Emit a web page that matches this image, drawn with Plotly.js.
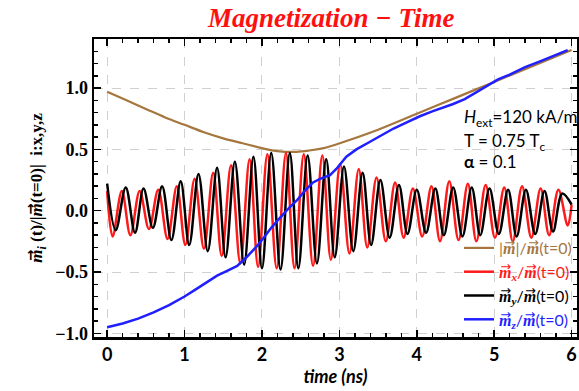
<!DOCTYPE html>
<html>
<head>
<meta charset="utf-8">
<script src="https://cdn.plot.ly/plotly-3.0.1.min.js"></script>
<style>
  html, body { margin: 0; padding: 0; background: #fff; }
  #chart { width: 579px; height: 391px; }
</style>
</head>
<body>
<div id="chart"></div>
<script>
// |m| / m(t=0)
const magT = [0.00, 0.25, 0.50, 0.75, 1.00, 1.25, 1.50, 1.75, 2.00, 2.15, 2.30, 2.45, 2.60, 2.80, 3.10, 3.50, 4.00, 4.50, 5.00, 5.50, 6.00];
const magV = [0.97, 0.90, 0.83, 0.76, 0.70, 0.64, 0.59, 0.55, 0.51, 0.49, 0.48, 0.48, 0.49, 0.51, 0.57, 0.66, 0.79, 0.92, 1.05, 1.18, 1.31];

// m_x / m(t=0), turning points
const mxT = [0.00, 0.07, 0.19, 0.30, 0.42, 0.54, 0.66, 0.78, 0.90, 1.01, 1.13, 1.25, 1.37, 1.48, 1.60, 1.72, 1.84, 1.95, 2.07, 2.19, 2.31, 2.42, 2.54, 2.66, 2.78, 2.89, 3.01, 3.13, 3.25, 3.36, 3.48, 3.60, 3.72, 3.83, 3.95, 4.07, 4.19, 4.30, 4.42, 4.54, 4.66, 4.77, 4.89, 5.01, 5.13, 5.24, 5.36, 5.48, 5.60, 5.71, 5.83, 5.95, 6.00];
const mxV = [0.16, -0.21, 0.16, -0.20, 0.16, -0.15, 0.17, -0.23, 0.20, -0.28, 0.26, -0.31, 0.31, -0.37, 0.37, -0.43, 0.42, -0.46, 0.46, -0.47, 0.47, -0.47, 0.46, -0.45, 0.45, -0.40, 0.38, -0.35, 0.34, -0.30, 0.27, -0.25, 0.23, -0.22, 0.18, -0.21, 0.20, -0.25, 0.24, -0.24, 0.22, -0.25, 0.21, -0.22, 0.19, -0.25, 0.20, -0.22, 0.18, -0.20, 0.17, -0.12, 0.05];

// m_y / m(t=0), turning points
const myT = [0.00, 0.11, 0.24, 0.36, 0.47, 0.59, 0.71, 0.83, 0.95, 1.06, 1.18, 1.30, 1.42, 1.53, 1.65, 1.77, 1.89, 2.00, 2.12, 2.24, 2.36, 2.47, 2.59, 2.71, 2.83, 2.94, 3.06, 3.18, 3.30, 3.41, 3.53, 3.65, 3.77, 3.88, 4.00, 4.12, 4.24, 4.35, 4.47, 4.59, 4.71, 4.82, 4.94, 5.06, 5.18, 5.29, 5.41, 5.53, 5.65, 5.76, 5.88, 6.00];
const myV = [0.22, -0.16, 0.19, -0.18, 0.18, -0.14, 0.20, -0.24, 0.24, -0.28, 0.30, -0.33, 0.35, -0.38, 0.40, -0.44, 0.44, -0.47, 0.47, -0.48, 0.47, -0.47, 0.45, -0.43, 0.42, -0.38, 0.36, -0.33, 0.31, -0.28, 0.25, -0.22, 0.21, -0.19, 0.17, -0.18, 0.18, -0.20, 0.19, -0.21, 0.19, -0.20, 0.18, -0.19, 0.17, -0.21, 0.17, -0.19, 0.16, -0.17, 0.14, 0.05];

// m_z / m(t=0)
const mzT = [0.00, 0.20, 0.40, 0.60, 0.80, 1.00, 1.15, 1.29, 1.42, 1.55, 1.68, 1.80, 1.92, 2.01, 2.12, 2.23, 2.36, 2.46, 2.55, 2.66, 2.75, 2.88, 2.96, 3.09, 3.22, 3.39, 3.55, 3.70, 3.87, 4.04, 4.20, 4.35, 4.47, 4.62, 4.78, 4.90, 5.05, 5.20, 5.40, 5.60, 5.80, 5.95];
const mzV = [-0.95, -0.92, -0.88, -0.83, -0.77, -0.70, -0.64, -0.58, -0.53, -0.49, -0.45, -0.38, -0.30, -0.23, -0.14, -0.06, 0.03, 0.09, 0.16, 0.23, 0.26, 0.29, 0.34, 0.44, 0.50, 0.56, 0.62, 0.67, 0.72, 0.77, 0.81, 0.84, 0.87, 0.91, 0.97, 1.02, 1.07, 1.11, 1.17, 1.22, 1.27, 1.31];

const xTicks = [0, 1, 2, 3, 4, 5, 6];
const yTicks = [-1.0, -0.5, 0.0, 0.5, 1.0];

const cMag = '#a5773f', cX = '#ff1a1a', cY = '#000000', cZ = '#1f1fff';

// Vector m: bold-italic serif "m" with a raised arrow drawn over it.
// The m's advance is pulled back so the arrow sits on top of it.
function vec(F, sub) {
  const back = (-0.68 * F).toFixed(2);
  const aSize = (0.8 * F).toFixed(2);
  const aGap = (0.01 * F).toFixed(2);
  return `<span style="font-family:'Liberation Serif';letter-spacing:${back}px"><b><i>m</i></b></span>` +
         `<sup><span style="font-family:'DejaVu Sans';font-size:${aSize}px;letter-spacing:${aGap}px">\u2192</span></sup>` +
         (sub || '');
}
const lbl = (c, body) => `<span style="color:${c}">${body}</span>`;
const LF = 16;   // legend font size
const subB = (s) => `<sub><span style="font-family:'Liberation Serif'"><b><i>${s}</i></b></span></sub>`;

const traces = [
  { x: magT, y: magV, mode: 'lines', line: { color: cMag, width: 2.2, shape: 'spline' },
    name: lbl(cMag, `|${vec(LF)}|/${vec(LF)}(t=0)`) },
  { x: mxT, y: mxV, mode: 'lines', line: { color: cX, width: 2.5, shape: 'spline', smoothing: 1 },
    name: lbl(cX, `${vec(LF, subB('x'))}/${vec(LF)}(t=0)`) },
  { x: myT, y: myV, mode: 'lines', line: { color: cY, width: 2.5, shape: 'spline', smoothing: 1 },
    name: lbl(cY, `${vec(LF, subB('y'))}/${vec(LF)}(t=0)`) },
  { x: mzT, y: mzV, mode: 'lines', line: { color: cZ, width: 2.5 },
    name: lbl(cZ, `${vec(LF, subB('z'))}/${vec(LF)}(t=0)`) }
];

const YF = 17;   // y-axis title font size

const layout = {
  width: 579, height: 391,
  margin: { l: 94, r: 2, t: 39, b: 54 },
  paper_bgcolor: '#fff', plot_bgcolor: '#fff',
  showlegend: true,
  title: {
    text: '<b><i>Magnetization \u2212 Time</i></b>',
    font: { family: 'Liberation Serif', size: 27, color: '#ff1010' },
    x: 0.572, xanchor: 'center', y: 0.93, yanchor: 'bottom'
  },
  xaxis: {
    range: [-0.17, 6.07],
    tickvals: xTicks, ticktext: xTicks.map(String),
    ticks: 'inside', ticklen: 7, tickwidth: 1.5, tickcolor: '#000',
    minor: { dtick: 0.2, ticks: 'inside', ticklen: 4, tickcolor: '#000', showgrid: false },
    showline: true, linecolor: '#000', linewidth: 2.5, mirror: 'allticks',
    showgrid: true, gridcolor: '#d0d0d0', griddash: 'dash', gridwidth: 1,
    zeroline: false,
    tickfont: { family: 'Lato', size: 18, color: '#000', weight: 'bold' },
    title: { text: '<b><i>time (ns)</i></b>', font: { family: 'Lato', size: 18, color: '#000' }, standoff: 2 }
  },
  yaxis: {
    range: [-1.03, 1.40],
    tickvals: yTicks, tickformat: '.1f',
    ticks: 'inside', ticklen: 7, tickwidth: 1.5, tickcolor: '#000',
    minor: { dtick: 0.1, ticks: 'inside', ticklen: 4, tickcolor: '#000', showgrid: false },
    showline: true, linecolor: '#000', linewidth: 2.5, mirror: 'allticks',
    showgrid: true, gridcolor: '#d0d0d0', griddash: 'dash', gridwidth: 1,
    zeroline: false,
    tickfont: { family: 'Liberation Serif', size: 18, color: '#000', weight: 'bold' },
    title: { text: `<b>${vec(YF, '<sub><i>i</i></sub>')} (t)/|${vec(YF)}(t=0)|  i:x,y,z</b>`,
             font: { family: 'Liberation Serif', size: YF, color: '#000' }, standoff: 8 }
  },
  legend: {
    x: 1, xanchor: 'right', y: 0.0, yanchor: 'bottom',
    bgcolor: 'rgba(255,255,255,0)', borderwidth: 0,
    font: { family: 'Lato', size: LF },
    itemwidth: 30, tracegroupgap: 0
  },
  annotations: [
    { xref: 'paper', yref: 'paper', x: 0.762, y: 0.735, xanchor: 'left', yanchor: 'middle', showarrow: false,
      text: '<i>H</i><sub>ext</sub>=120 kA/m', font: { family: 'Lato', size: 17, color: '#000' } },
    { xref: 'paper', yref: 'paper', x: 0.762, y: 0.655, xanchor: 'left', yanchor: 'middle', showarrow: false,
      text: 'T = 0.75 T<sub>c</sub>', font: { family: 'Lato', size: 17, color: '#000' } },
    { xref: 'paper', yref: 'paper', x: 0.762, y: 0.59, xanchor: 'left', yanchor: 'middle', showarrow: false,
      text: '<b>\u03B1</b> = 0.1', font: { family: 'Lato', size: 17, color: '#000' } }
  ]
};

Plotly.newPlot('chart', traces, layout, { displayModeBar: false, staticPlot: true });
</script>
</body>
</html>
